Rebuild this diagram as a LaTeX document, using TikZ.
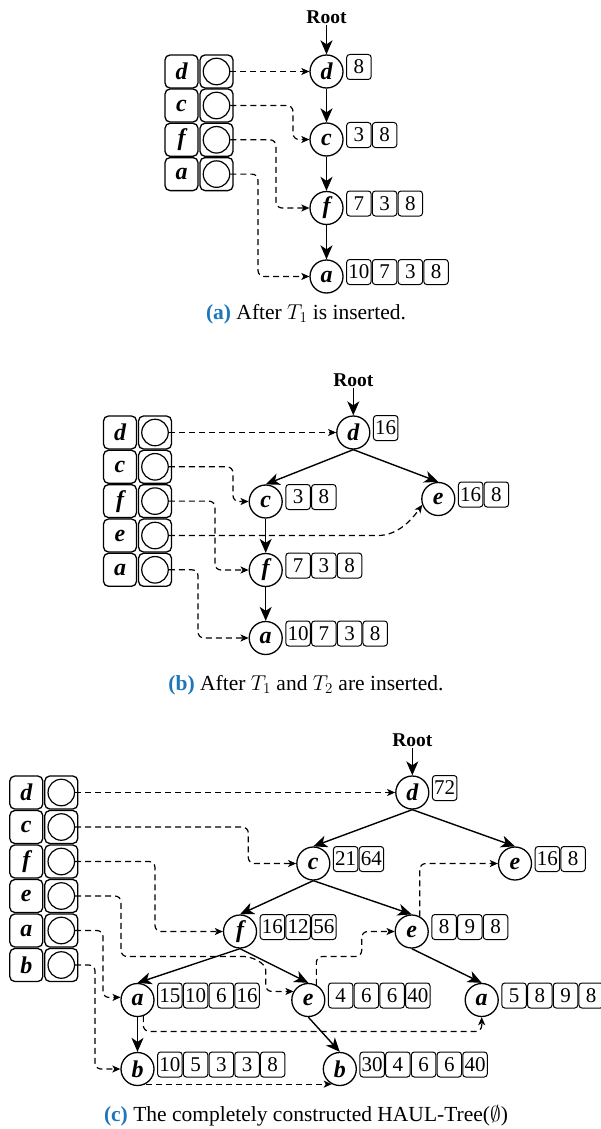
\RequirePackage{fix-cm}
\documentclass[tikz,border=0pt]{standalone}
\usepackage{fontspec}
\setmainfont{Liberation Serif}
\usetikzlibrary{arrows.meta,calc}
\definecolor{capblue}{RGB}{28,118,186}

\tikzset{
  tn/.style={circle, draw, line width=1.3pt, minimum size=33pt, inner sep=0pt,
    font=\fontsize{24}{24}\selectfont\bfseries\itshape},
  nb/.style={draw, rounded corners=3pt, line width=1pt, minimum width=24.5pt,
    minimum height=25pt, inner sep=0pt, font=\fontsize{21}{21}\selectfont},
  cellbox/.style={draw, rounded corners=5pt, line width=1.3pt, minimum size=33pt,
    inner sep=0pt, font=\fontsize{24}{24}\selectfont\bfseries\itshape},
  slot/.style={circle, draw, line width=1.2pt, minimum size=26.5pt, inner sep=0pt},
  rootlbl/.style={inner sep=1pt, font=\fontsize{19.5}{19.5}\selectfont\bfseries},
  captext/.style={inner sep=0pt, font=\fontsize{21.5}{24}\selectfont},
  treeedge/.style={line width=1.4pt, -{Stealth[length=14pt,width=12pt,inset=4pt]}},
  ptr/.style={line width=1.2pt, dash pattern=on 6pt off 4pt, rounded corners=6pt,
    -{Stealth[length=8pt,width=7pt,inset=2pt]}},
}

% one row of the header table: key cell with its letter, pointer cell with a slot
\newcommand\keyrow[4]{%
  \node[cellbox] (#1-k) at (#2,#3) {#4};
  \node[cellbox] (#1-p) at ({#2+35},#3) {};
  \node[slot] (#1-s) at ({#2+35},#3) {};
}
% the utility boxes to the right of a tree node
\newcommand\counts[2]{%
  \foreach \v [count=\k] in {#2} {
    \node[nb, anchor=west] (#1-n\k) at ($(#1.east)+({2.5+25.7*(\k-1)},-4.5)$) {\v};
  }%
}

\begin{document}
\begin{tikzpicture}[x=1pt,y=-1pt]
\useasboundingbox (0,0) rectangle (601,1129);

% ---------------- (a) ----------------
\node[rootlbl] (a-root) at (326.5,17) {Root};
\node[tn] (a-d) at (326.5,71.5) {d};
\node[tn] (a-c) at (326.5,139.5) {c};
\node[tn] (a-f) at (326.5,208) {f};
\node[tn] (a-a) at (326.5,276.5) {a};
\counts{a-d}{8}
\counts{a-c}{3,8}
\counts{a-f}{7,3,8}
\counts{a-a}{10,7,3,8}
\keyrow{a-rd}{181.5}{71.5}{d}
\keyrow{a-rc}{181.5}{105.5}{c}
\keyrow{a-rf}{181.5}{139.8}{f}
\keyrow{a-ra}{181.5}{174.1}{a}

\draw[treeedge] (a-root.south) -- (a-d.north);
\draw[treeedge] (a-d.south) -- (a-c.north);
\draw[treeedge] (a-c.south) -- (a-f.north);
\draw[treeedge] (a-f.south) -- (a-a.north);

\draw[ptr] (a-rd-s.east) -- (a-d.west);
\draw[ptr] (a-rc-s.east) -| (293,139.5) -- (a-c.west);
\draw[ptr] (a-rf-s.east) -| (276,208) -- (a-f.west);
\draw[ptr] (a-ra-s.east) -| (258,276.5) -- (a-a.west);

\node[captext] (cap-a) at (306,314) {\textcolor{capblue}{\textbf{(a)}} After $T_1$ is inserted.};

% ---------------- (b) ----------------
\node[rootlbl] (b-root) at (353.3,380) {Root};
\node[tn] (b-d) at (353.3,432.5) {d};
\node[tn] (b-c) at (265.7,501.5) {c};
\node[tn] (b-e) at (438.3,499) {e};
\node[tn] (b-f) at (265.7,570) {f};
\node[tn] (b-a) at (265.7,638) {a};
\counts{b-d}{16}
\counts{b-c}{3,8}
\counts{b-e}{16,8}
\counts{b-f}{7,3,8}
\counts{b-a}{10,7,3,8}
\keyrow{b-rd}{120}{432.5}{d}
\keyrow{b-rc}{120}{466.8}{c}
\keyrow{b-rf}{120}{501.1}{f}
\keyrow{b-re}{120}{535.5}{e}
\keyrow{b-ra}{120}{569.8}{a}

\draw[treeedge] (b-root.south) -- (b-d.north);
\draw[treeedge] (b-d.south) -- (b-c.north);
\draw[treeedge] (b-d.south) -- (b-e.north);
\draw[treeedge] (b-c.south) -- (b-f.north);
\draw[treeedge] (b-f.south) -- (b-a.north);

\draw[ptr] (b-rd-s.east) -- (b-d.west);
\draw[ptr] (b-rc-s.east) -| (233,501.5) -- (b-c.west);
\draw[ptr] (b-rf-s.east) -| (215,570) -- (b-f.west);
\draw[ptr] (b-re-s.east) -- (372,535.5) to[out=0,in=235] (b-e.200);
\draw[ptr] (b-ra-s.east) -| (198,638) -- (b-a.west);

\node[captext] (cap-b) at (306,685) {\textcolor{capblue}{\textbf{(b)}} After $T_1$ and $T_2$ are inserted.};

% ---------------- (c) ----------------
\node[rootlbl] (c-root) at (412.3,740) {Root};
\node[tn] (c-d) at (412.3,792.5) {d};
\node[tn] (c-c) at (313.3,863.5) {c};
\node[tn] (c-et) at (515,863.5) {e};
\node[tn] (c-f) at (240,931.5) {f};
\node[tn] (c-em) at (411.7,931.5) {e};
\node[tn] (c-al) at (137.5,1000) {a};
\node[tn] (c-el) at (308.3,1000) {e};
\node[tn] (c-ar) at (481.7,1000) {a};
\node[tn] (c-bl) at (137.5,1069) {b};
\node[tn] (c-br) at (339.8,1069) {b};
\counts{c-d}{72}
\counts{c-c}{21,64}
\counts{c-et}{16,8}
\counts{c-f}{16,12,56}
\counts{c-em}{8,9,8}
\counts{c-al}{15,10,6,16}
\counts{c-el}{4,6,6,40}
\counts{c-ar}{5,8,9,8}
\counts{c-bl}{10,5,3,3,8}
\counts{c-br}{30,4,6,6,40}
\keyrow{c-rd}{26.3}{792.5}{d}
\keyrow{c-rc}{26.3}{827}{c}
\keyrow{c-rf}{26.3}{861.5}{f}
\keyrow{c-re}{26.3}{896}{e}
\keyrow{c-ra}{26.3}{930.5}{a}
\keyrow{c-rb}{26.3}{965}{b}

\draw[treeedge] (c-root.south) -- (c-d.north);
\draw[treeedge] (c-d.south) -- (c-c.north);
\draw[treeedge] (c-d.south) -- (c-et.north);
\draw[treeedge] (c-c.south) -- (c-f.north);
\draw[treeedge] (c-c.south) -- (c-em.north);
\draw[treeedge] (c-f.south) -- (c-al.north);
\draw[treeedge] (c-f.south) -- (c-el.north);
\draw[treeedge] (c-em.south) -- (c-ar.north);
\draw[treeedge] (c-al.south) -- (c-bl.north);
\draw[treeedge] (c-el.south) -- (c-br.north);

\draw[ptr] (c-rd-s.east) -- (c-d.west);
\draw[ptr] (c-rc-s.east) -| (248.3,863.5) -- (c-c.west);
\draw[ptr] (c-rf-s.east) -| (155,931.5) -- (c-f.west);
\draw[ptr] (c-re-s.east) -| (121,956.5) -- (238,956.5) to[out=0,in=90] (265.7,976) |- (c-el.150);
\draw[ptr] (c-ra-s.east) -| (103,997.5) -- (c-al.171);
\draw[ptr] (c-rb-s.east) -| (95,1069) -- (c-bl.west);

% links between nodes that carry the same item
\draw[ptr] (c-em.62) |- (c-et.west);
\draw[ptr] (c-el.62) |- (361.7,956.5) |- (c-em.west);
\draw[ptr] (c-al.-70) |- (481.7,1031.5) -- (c-ar.south);
\draw[ptr] (c-bl.-62) -- (c-br.242);

\node[captext] (cap-c) at (306,1116) {\textcolor{capblue}{\textbf{(c)}} The completely constructed HAUL-Tree($\emptyset$)};
\end{tikzpicture}
\end{document}
